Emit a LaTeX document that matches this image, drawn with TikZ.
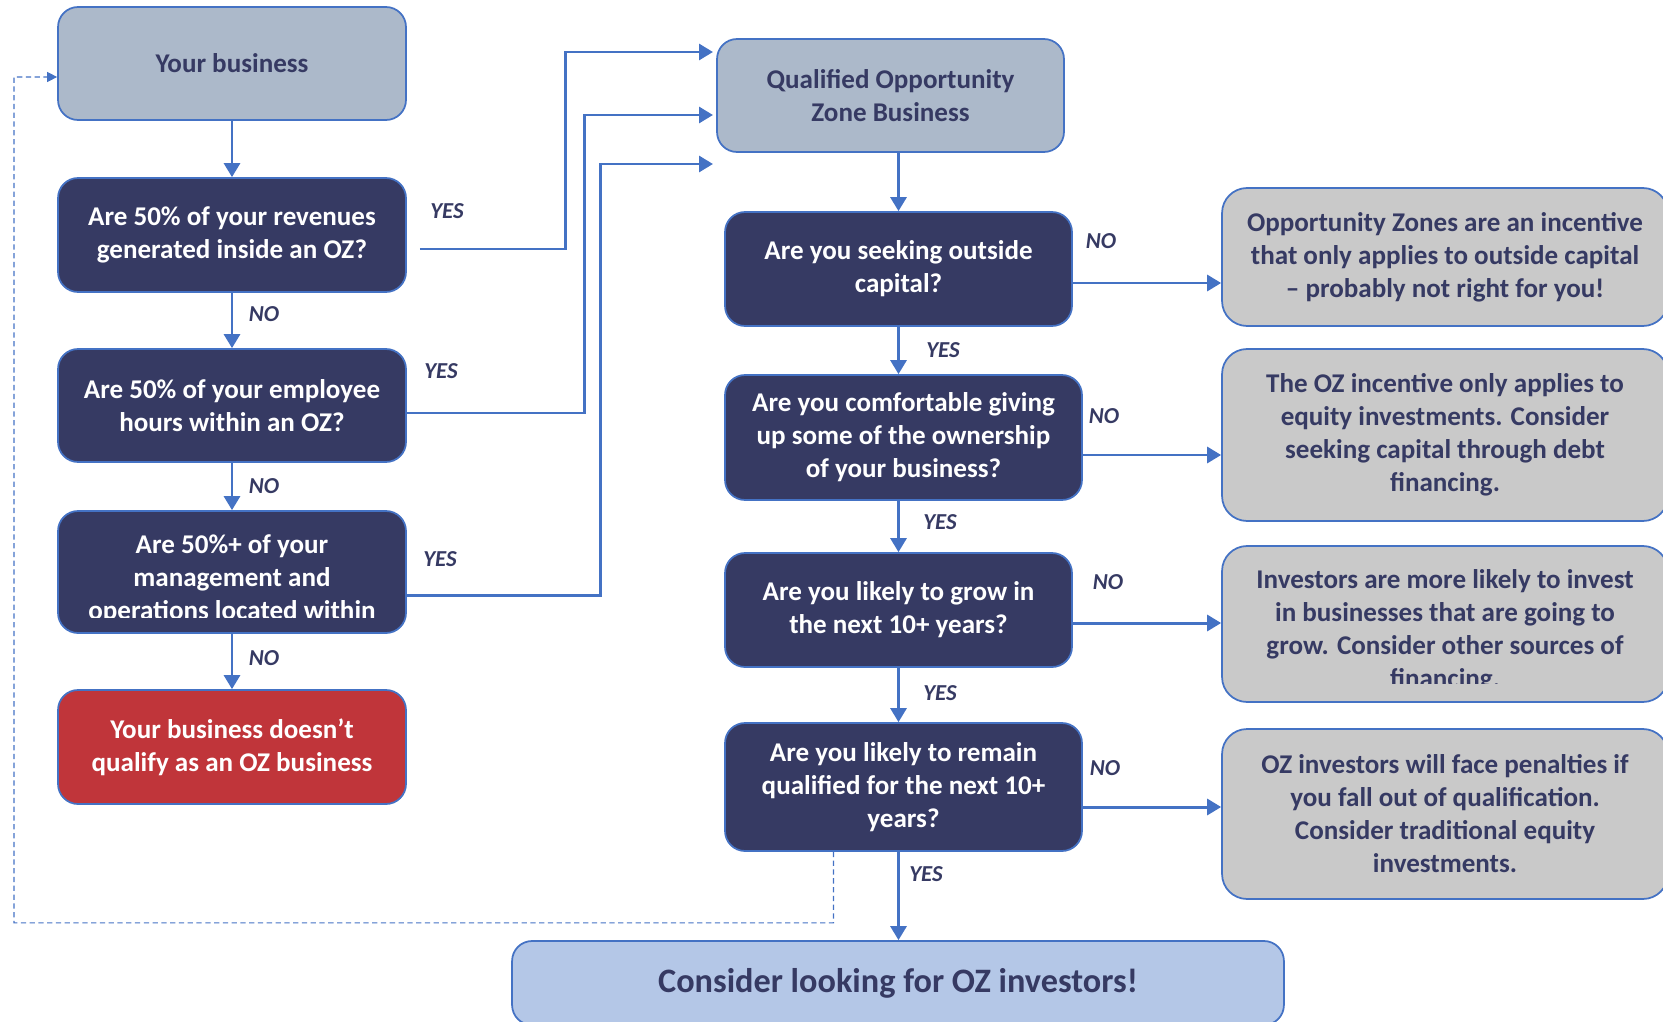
\documentclass[tikz,border=0pt]{standalone}
\usepackage{fontspec}
\setmainfont{Carlito}
\usetikzlibrary{arrows.meta}
\definecolor{ozNavy}{HTML}{363A63}
\definecolor{ozBlue}{HTML}{4472C4}
\definecolor{ozSlate}{HTML}{ACB9CA}
\definecolor{ozRed}{HTML}{C0353A}
\definecolor{ozGray}{HTML}{C9C9C9}
\definecolor{ozSky}{HTML}{B4C7E7}

\begin{document}
\begin{tikzpicture}[x=0.02cm,y=-0.02cm,
	box/.style={draw=ozBlue, line width=1pt, rounded corners=0.4cm, align=center, inner sep=0pt,
		font=\fontsize{15.4}{18.8}\selectfont\bfseries},
	entrybox/.style={box, fill=ozSlate, text=ozNavy},
	askbox/.style={box, fill=ozNavy, text=white},
	failbox/.style={box, fill=ozRed, text=white},
	notebox/.style={box, fill=ozGray, text=ozNavy, rounded corners=0.5cm},
	goalbox/.style={box, fill=ozSky, text=ozNavy, font=\fontsize{19.5}{23}\selectfont\bfseries},
	boxtext/.style={align=center, inner sep=0pt, font=\fontsize{15.4}{18.8}\selectfont\bfseries},
	link/.style={draw=ozBlue, line width=1.7pt, -{Triangle[length=0.28cm,width=0.32cm]}},
	back/.style={draw=ozBlue, line width=0.6pt, dash pattern=on 3pt off 2pt, -{Triangle[length=0.2cm,width=0.2cm]}},
	ans/.style={text=ozNavy, inner sep=0pt, font=\fontsize{13}{15}\selectfont\bfseries\itshape}]

	\clip (0,0) rectangle (1663,1021);

	% left column: does the business qualify
	\node[entrybox, minimum width=6.96cm, minimum height=2.26cm] (biz) at (232,63.5) {Your business};
	\node[askbox, minimum width=6.96cm, minimum height=2.28cm] (rev) at (232,235) {Are 50\% of your revenues\\generated inside an OZ?};
	\node[askbox, minimum width=6.96cm, minimum height=2.26cm] (emp) at (232,405.5) {Are 50\% of your employee\\hours within an OZ?};
	\node[askbox, minimum width=6.96cm, minimum height=2.44cm] (mgmt) at (232,572) {};
	\begin{scope}
		\clip (60,511) rectangle (404,617);
		\node[boxtext, text=white] (mgmtText) at (232,579.5) {Are 50\%+ of your\\management and\\operations located within};
	\end{scope}
	\node[failbox, minimum width=6.96cm, minimum height=2.28cm] (noq) at (232,747) {Your business doesn’t\\qualify as an OZ business};

	% middle column
	\node[entrybox, minimum width=6.94cm, minimum height=2.26cm] (qozb) at (890.5,95.5) {Qualified Opportunity\\Zone Business};
	\node[askbox, minimum width=6.94cm, minimum height=2.28cm] (cap) at (898.5,269) {Are you seeking outside\\capital?};
	\node[askbox, minimum width=7.14cm, minimum height=2.5cm] (own) at (903.5,437.5) {Are you comfortable giving\\up some of the ownership\\of your business?};
	\node[askbox, minimum width=6.94cm, minimum height=2.28cm] (grow) at (898.5,610) {Are you likely to grow in\\the next 10+ years?};
	\node[askbox, minimum width=7.14cm, minimum height=2.56cm] (remain) at (903.5,787) {Are you likely to remain\\qualified for the next 10+\\years?};
	\node[goalbox, minimum width=15.44cm, minimum height=1.68cm] (final) at (898,983) {Consider looking for OZ investors!};

	% right column
	\node[notebox, minimum width=8.92cm, minimum height=2.76cm] (incap) at (1445,257) {Opportunity Zones are an incentive\\that only applies to outside capital\\– probably not right for you!};
	\node[notebox, minimum width=8.92cm, minimum height=3.44cm] (indebt) at (1445,435) {The OZ incentive only applies to\\equity investments. Consider\\seeking capital through debt\\financing.};
	\node[notebox, minimum width=8.92cm, minimum height=3.12cm] (ingrow) at (1445,624) {};
	\begin{scope}
		\clip (1224,548) rectangle (1663,683);
		\node[boxtext, text=ozNavy] (ingrowText) at (1445,631) {Investors are more likely to invest\\in businesses that are going to\\grow. Consider other sources of\\financing.};
	\end{scope}
	\node[notebox, minimum width=8.92cm, minimum height=3.4cm] (inequity) at (1445,814) {OZ investors will face penalties if\\you fall out of qualification.\\Consider traditional equity\\investments.};

	\draw[link] (biz) -- (rev);
	\draw[link] (rev) -- (emp);
	\draw[link] (emp) -- (mgmt);
	\draw[link] (mgmt) -- (noq);

	\coordinate (in1) at (713,52);
	\coordinate (in2) at (713,115);
	\coordinate (in3) at (713,164);
	\draw[link] ([shift={(13,14)}]rev.east) -- ++(146,0) |- (in1);
	\draw[link] ([shift={(0,7.5)}]emp.east) -- ++(178,0) |- (in2);
	\draw[link] ([shift={(0,23)}]mgmt.east) -- ++(194,0) |- (in3);

	\draw[link] (qozb.south -| cap.north) -- (cap.north);
	\draw[link] (cap.south) -- (cap.south |- own.north);
	\draw[link] (cap.south |- own.south) -- (cap.south |- grow.north);
	\draw[link] (grow.south) -- (grow.south |- remain.north);
	\draw[link] (grow.south |- remain.south) -- (grow.south |- final.north);

	\coordinate (o1) at ([shift={(0,14)}]cap.east);
	\coordinate (o2) at ([shift={(0,17.5)}]own.east);
	\coordinate (o3) at ([shift={(0,13)}]grow.east);
	\coordinate (o4) at ([shift={(0,20)}]remain.east);
	\draw[link] (o1) -- (o1 -| incap.west);
	\draw[link] (o2) -- (o2 -| indebt.west);
	\draw[link] (o3) -- (o3 -| ingrow.west);
	\draw[link] (o4) -- (o4 -| inequity.west);

	\draw[back] ([xshift=-1.4cm]remain.south) -- ++(0,71) -| (14,77) -- ([shift={(0,13.5)}]biz.west);

	\node[ans] (no1) at (264,314) {NO};
	\node[ans] (no2) at (264,486) {NO};
	\node[ans] (no3) at (264,658) {NO};
	\node[ans] (yes1) at (447,211) {YES};
	\node[ans] (yes2) at (441,371) {YES};
	\node[ans] (yes3) at (440,559) {YES};
	\node[ans] (yes4) at (943,350) {YES};
	\node[ans] (yes5) at (940,522) {YES};
	\node[ans] (yes6) at (940,693) {YES};
	\node[ans] (yes7) at (926,874) {YES};
	\node[ans] (no4) at (1101,241) {NO};
	\node[ans] (no5) at (1104,416) {NO};
	\node[ans] (no6) at (1108,582) {NO};
	\node[ans] (no7) at (1105,768) {NO};
\end{tikzpicture}
\end{document}
